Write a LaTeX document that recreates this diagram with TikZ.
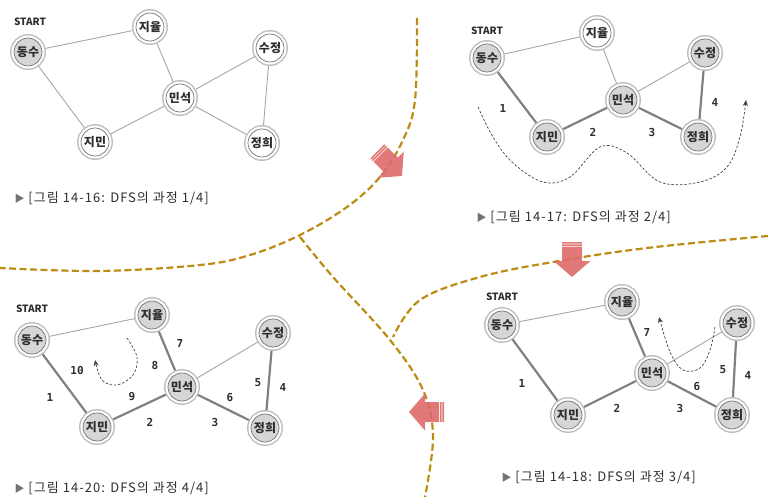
\documentclass[tikz,border=0pt]{standalone}
\usepackage{fontspec}
\setmainfont{Noto Sans CJK KR}
\newfontfamily\capfont[LetterSpace=8]{Noto Sans CJK KR}
\newfontfamily\numfont{DejaVu Sans Mono}
\usetikzlibrary{arrows.meta,backgrounds}

\definecolor{divcol}{HTML}{BC8C14}
\definecolor{arrowred}{HTML}{DE6A6A}
\definecolor{inkgray}{HTML}{2E2E2E}

\tikzset{
  person/.style={circle, minimum size=28pt, inner sep=0pt, fill=white, draw=black!55, line width=0.7pt,
    preaction={draw=black!25, line width=8pt}, preaction={draw=white, line width=5pt},
    font=\bfseries\fontsize{12}{12}\selectfont, text=inkgray},
  visited/.style={fill=black!16},
  edge/.style={draw=black!35, line width=0.9pt},
  walked/.style={draw=black!50, line width=2.2pt},
  stepno/.style={font=\numfont\bfseries\fontsize{11}{11}\selectfont, text=inkgray},
  startmark/.style={font=\bfseries\fontsize{10}{10}\selectfont, text=inkgray},
  trace/.style={draw=black!75, line width=0.7pt, dash pattern=on 2.5pt off 1.8pt, -{Stealth[length=6pt,width=5pt]}},
  divider/.style={draw=divcol, line width=2.2pt, dash pattern=on 7pt off 3.5pt},
  caption/.style={anchor=west, font=\capfont\fontsize{13}{13}\selectfont, text=inkgray},
  pics/turnarrow/.style={code={
    \fill[arrowred, fill opacity=.9] (-10,-35) rectangle (10,-33.4)
      (-10,-32.6) rectangle (10,-31) (-10,-30.2) rectangle (10,-16)
      (-18.5,-16) -- (18.5,-16) -- (0,0) -- cycle;
  }}
}
\newcommand\tri{{\color{black!55}\fontsize{10}{10}\selectfont ▶}}

\begin{document}
\begin{tikzpicture}[x=1pt,y=-1pt]
\useasboundingbox (0,0) rectangle (768,497);

% borders between the four steps
\draw[divider] plot[smooth, tension=0.6] coordinates {(417,18) (415,100) (403,140) (380,177) (347,207) (300,235) (250,255) (200,265) (100,271) (0,268)};
\draw[divider] plot[smooth, tension=0.6] coordinates {(300,237) (333,277) (390,340) (423,390) (433,437) (425,497)};
\draw[divider] plot[smooth, tension=0.6] coordinates {(768,236) (647,248) (553,262) (480,277) (420,300) (393,337)};

\pic[rotate=45] at (402,176) {turnarrow};
\pic at (572,277) {turnarrow};
\pic[rotate=-90] at (409,412) {turnarrow};

% step 1/4
\node[startmark] at (30,22) {START};
\node[person, visited] (p1ds) at (28,52) {동수};
\node[person] (p1jy) at (150,27) {지율};
\node[person] (p1sj) at (270,48) {수정};
\node[person] (p1ms) at (180,98) {민석};
\node[person] (p1jm) at (95,142) {지민};
\node[person] (p1jh) at (262,143) {정희};
\begin{pgfonlayer}{background}
\draw[edge] (p1ds) -- (p1jy);
\draw[edge] (p1ds) -- (p1jm);
\draw[edge] (p1jy) -- (p1ms);
\draw[edge] (p1jm) -- (p1ms);
\draw[edge] (p1ms) -- (p1sj);
\draw[edge] (p1ms) -- (p1jh);
\draw[edge] (p1sj) -- (p1jh);
\end{pgfonlayer}
\node[caption] at (11,198) {\tri\ [그림 14-16: DFS의 과정 1/4]};

% step 2/4
\node[startmark] at (487,31) {START};
\node[person, visited] (p2ds) at (487,58) {동수};
\node[person] (p2jy) at (597,33) {지율};
\node[person, visited] (p2sj) at (705,53) {수정};
\node[person, visited] (p2ms) at (623,100) {민석};
\node[person, visited] (p2jm) at (547,137) {지민};
\node[person, visited] (p2jh) at (698,137) {정희};
\begin{pgfonlayer}{background}
\draw[edge] (p2ds) -- (p2jy);
\draw[walked] (p2ds) -- (p2jm);
\draw[edge] (p2jy) -- (p2ms);
\draw[walked] (p2jm) -- (p2ms);
\draw[edge] (p2ms) -- (p2sj);
\draw[walked] (p2ms) -- (p2jh);
\draw[walked] (p2sj) -- (p2jh);
\end{pgfonlayer}
\node[stepno] at (503,108) {1};
\node[stepno] at (593,132) {2};
\node[stepno] at (652,132) {3};
\node[stepno] at (715,102) {4};
\draw[trace] plot[smooth, tension=0.6] coordinates {(478,107) (493,137) (513,163) (543,182) (570,177) (600,147) (627,153) (660,182) (700,182) (727,167) (740,137) (746,100)};
\node[caption] at (473,217) {\tri\ [그림 14-17: DFS의 과정 2/4]};

% step 3/4
\node[startmark] at (502,297) {START};
\node[person, visited] (p3ds) at (502,325) {동수};
\node[person, visited] (p3jy) at (622,302) {지율};
\node[person, visited] (p3sj) at (737,323) {수정};
\node[person, visited] (p3ms) at (652,373) {민석};
\node[person, visited] (p3jm) at (568,415) {지민};
\node[person, visited] (p3jh) at (732,415) {정희};
\begin{pgfonlayer}{background}
\draw[edge] (p3ds) -- (p3jy);
\draw[walked] (p3ds) -- (p3jm);
\draw[walked] (p3jy) -- (p3ms);
\draw[walked] (p3jm) -- (p3ms);
\draw[edge] (p3ms) -- (p3sj);
\draw[walked] (p3ms) -- (p3jh);
\draw[walked] (p3sj) -- (p3jh);
\end{pgfonlayer}
\node[stepno] at (522,383) {1};
\node[stepno] at (617,408) {2};
\node[stepno] at (680,408) {3};
\node[stepno] at (748,375) {4};
\node[stepno] at (723,370) {5};
\node[stepno] at (697,387) {6};
\node[stepno] at (647,332) {7};
\draw[trace] plot[smooth, tension=0.6] coordinates {(715,327) (710,350) (700,368) (683,370) (670,352) (659,317)};
\node[caption] at (498,477) {\tri\ [그림 14-18: DFS의 과정 3/4]};

% step 4/4
\node[startmark] at (32,309) {START};
\node[person, visited] (p4ds) at (32,340) {동수};
\node[person, visited] (p4jy) at (152,315) {지율};
\node[person, visited] (p4sj) at (273,333) {수정};
\node[person, visited] (p4ms) at (182,387) {민석};
\node[person, visited] (p4jm) at (97,427) {지민};
\node[person, visited] (p4jh) at (265,428) {정희};
\begin{pgfonlayer}{background}
\draw[edge] (p4ds) -- (p4jy);
\draw[walked] (p4ds) -- (p4jm);
\draw[walked] (p4jy) -- (p4ms);
\draw[walked] (p4jm) -- (p4ms);
\draw[edge] (p4ms) -- (p4sj);
\draw[walked] (p4ms) -- (p4jh);
\draw[walked] (p4sj) -- (p4jh);
\end{pgfonlayer}
\node[stepno] at (50,397) {1};
\node[stepno] at (150,422) {2};
\node[stepno] at (215,422) {3};
\node[stepno] at (283,387) {4};
\node[stepno] at (258,383) {5};
\node[stepno] at (230,398) {6};
\node[stepno] at (180,343) {7};
\node[stepno] at (155,365) {8};
\node[stepno] at (132,397) {9};
\node[stepno] at (77,370) {10};
\draw[trace] plot[smooth, tension=0.6] coordinates {(127,338) (137,357) (133,375) (117,385) (102,380) (95,360)};
\node[caption] at (11,488) {\tri\ [그림 14-20: DFS의 과정 4/4]};
\end{tikzpicture}
\end{document}
